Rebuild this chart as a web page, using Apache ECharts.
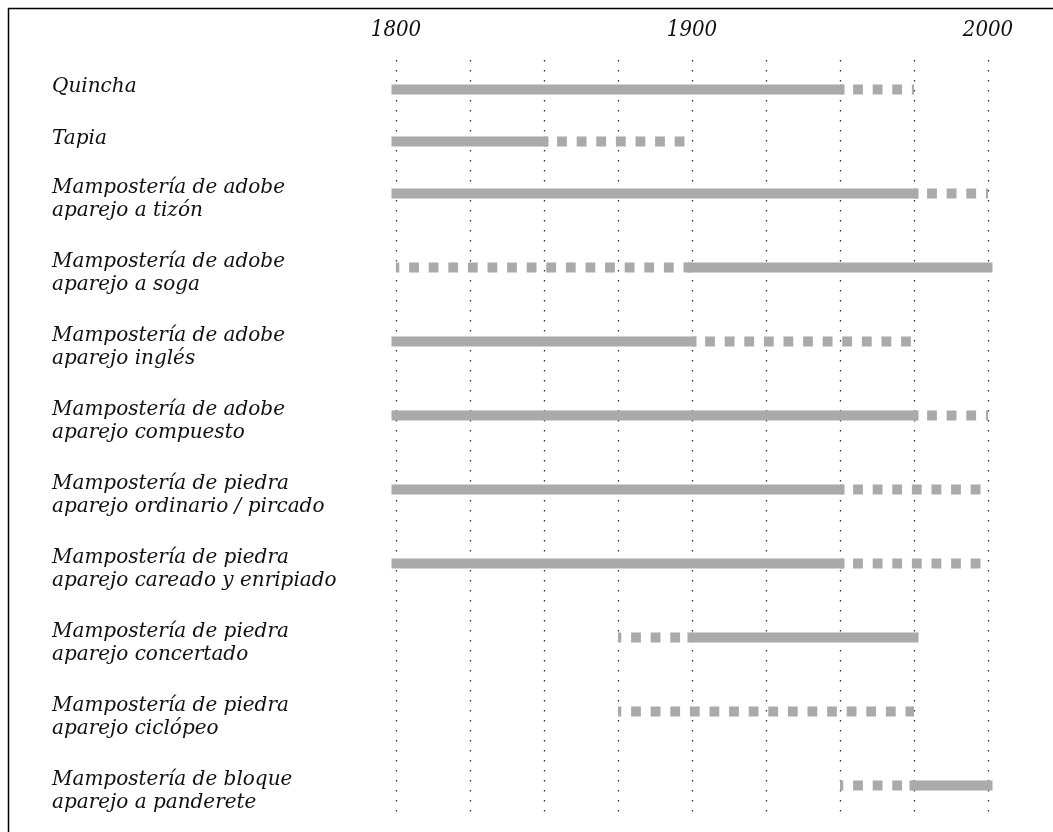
<!DOCTYPE html>
<html>
<head>
<meta charset="utf-8">
<script src="https://cdn.jsdelivr.net/npm/echarts@6/dist/echarts.min.js"></script>
<style>
html,body{margin:0;padding:0;background:#fff;}
#chart{width:1053px;height:832px;}
</style>
</head>
<body>
<div id="chart"></div>
<script>
// ---- data ----
const categories = [
  'Quincha',
  'Tapia',
  'Mampostería de adobe\naparejo a tizón',
  'Mampostería de adobe\naparejo a soga',
  'Mampostería de adobe\naparejo inglés',
  'Mampostería de adobe\naparejo compuesto',
  'Mampostería de piedra\naparejo ordinario / pircado',
  'Mampostería de piedra\naparejo careado y enripiado',
  'Mampostería de piedra\naparejo concertado',
  'Mampostería de piedra\naparejo ciclópeo',
  'Mampostería de bloque\naparejo a panderete'
];
const solidStart = [1800, 1800, 1800, 1900, 1800, 1800, 1800, 1800, 1900, null, 1975];
const solidEnd   = [1950, 1850, 1975, 2000, 1900, 1975, 1950, 1950, 1975, null, 2000];
const dashStart  = [1950, 1850, 1975, 1800, 1900, 1975, 1950, 1950, 1875, 1875, 1950];
const dashEnd    = [1975, 1900, 2000, 1900, 1975, 2000, 2000, 2000, 1900, 1975, 1975];
const xTickLabels = [1800, 1900, 2000];

// ---- layout (row spacing derived from label line counts) ----
const ROW_GAP = 52, LINE_H = 22;
const rowPos = [];
(function(){ let acc = 0; categories.forEach(c => { rowPos.push(acc); acc += ROW_GAP + LINE_H * (c.split('\n').length - 1); }); })();

const BAR_COLOR = '#aaaaaa';
const BAR_W = 10;
const LABEL_FONT = 'italic 20px "DejaVu Serif"';

const chart = echarts.init(document.getElementById('chart'), null, {renderer: 'canvas'});

const rowData = categories.map((c, i) => [i]);

function renderRow(params, api) {
  const i = api.value(0);
  const y = rowPos[i];
  const nLines = categories[i].split('\n').length;
  const children = [];
  children.push({
    type: 'text',
    style: {
      x: 52, y: api.coord([1800, y])[1] - (nLines === 1 ? 14.5 : 17.5),
      text: categories[i],
      font: LABEL_FONT,
      lineHeight: 23,
      fill: '#111',
      align: 'left', verticalAlign: 'top'
    }
  });
  if (dashStart[i] != null) {
    const a = api.coord([dashStart[i], y]);
    const b = api.coord([dashEnd[i], y]);
    children.push({
      type: 'line',
      shape: {x1: a[0], y1: a[1], x2: b[0], y2: b[1]},
      style: {stroke: BAR_COLOR, lineWidth: BAR_W, lineDash: [9.8, 9.8], lineDashOffset: 6.5, lineCap: 'butt'}
    });
  }
  if (solidStart[i] != null) {
    const a = api.coord([solidStart[i], y]);
    const b = api.coord([solidEnd[i], y]);
    children.push({
      type: 'rect',
      shape: {x: a[0] - 4.5, y: a[1] - BAR_W / 2, width: b[0] - a[0] + 9, height: BAR_W},
      style: {fill: BAR_COLOR}
    });
  }
  return {type: 'group', children: children};
}

const option = {
  backgroundColor: '#fff',
  animation: false,
  grid: {left: 396, right: 65, top: 60, bottom: 12, containLabel: false},
  xAxis: {
    type: 'value', position: 'top',
    min: 1800, max: 2000, interval: 25,
    axisLine: {show: false}, axisTick: {show: false},
    axisLabel: {
      margin: 19,
      formatter: v => (xTickLabels.indexOf(v) >= 0 ? String(v) : ''),
      fontFamily: '"DejaVu Serif Condensed", "DejaVu Serif"', fontStyle: 'italic', fontSize: 22, color: '#111'
    },
    splitLine: {show: true, lineStyle: {color: '#333', width: 1.3, type: [1.5, 8.5]}}
  },
  yAxis: {
    type: 'value', inverse: true, min: -29.5, max: 730.5, show: false,
    splitLine: {show: false}
  },
  series: [{
    type: 'custom',
    renderItem: renderRow,
    data: rowData,
    clip: false,
    silent: true
  }],
  graphic: [{
    type: 'rect', silent: true,
    shape: {x: 8.5, y: 8.5, width: 1200, height: 1000},
    style: {fill: 'none', stroke: '#000', lineWidth: 1.5}
  }]
};
chart.setOption(option);
</script>
</body>
</html>
